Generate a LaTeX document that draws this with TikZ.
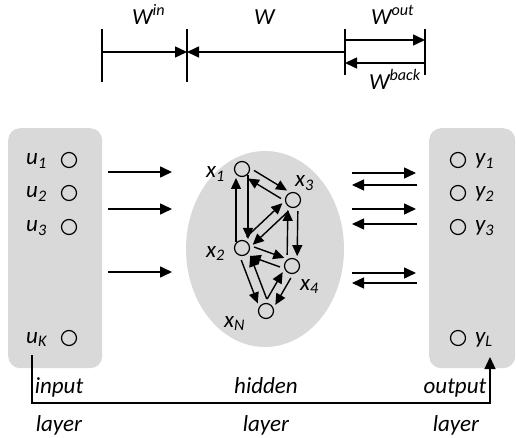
\documentclass[tikz,border=0pt]{standalone}
\usepackage{fontspec}
\setmainfont{Carlito}
\usetikzlibrary{arrows.meta,calc,shapes.geometric}
\definecolor{panel}{RGB}{217,217,217}
\tikzset{
  lbl/.style={font=\fontsize{23}{27}\selectfont\itshape, inner sep=0pt, anchor=base west},
  lblc/.style={font=\fontsize{23}{27}\selectfont\itshape, inner sep=0pt, anchor=base},
  neuron/.style={circle, draw, line width=1.2pt, minimum size=15pt, inner sep=0pt},
  panelbox/.style={fill=panel, rounded corners=12pt, inner sep=0pt, anchor=north west},
  arr/.style={line width=1.5pt, -{Triangle[length=12pt,width=11pt]}},
  farr/.style={line width=1.3pt, -{Triangle[length=12pt,width=11pt]}},
  harr/.style={line width=1.4pt, -{Triangle[length=11pt,width=10pt]}, shorten <=11pt, shorten >=10pt},
  dimline/.style={line width=1.5pt},
}
\newcommand\hpair[4][]{%
  \draw[harr,#1] ($(#2)!#4!90:(#3)$) -- ($(#3)!#4!-90:(#2)$);
  \draw[harr,#1] ($(#3)!#4!90:(#2)$) -- ($(#2)!#4!-90:(#3)$);
}
\begin{document}
\begin{tikzpicture}[x=1pt,y=-1pt]
\useasboundingbox (0,0) rectangle (516,438);

% ---- top dimension diagram ----
\coordinate (t1a) at (102,29); \coordinate (t1b) at (102,82);
\coordinate (t2a) at (187,29); \coordinate (t2b) at (187,82);
\coordinate (t3a) at (345,29); \coordinate (t3b) at (345,75);
\coordinate (t4a) at (425,29); \coordinate (t4b) at (425,75);
\draw[dimline] (t1a) -- (t1b);
\draw[dimline] (t2a) -- (t2b);
\draw[dimline] (t3a) -- (t3b);
\draw[dimline] (t4a) -- (t4b);
\coordinate (m1) at (102,52); \coordinate (m2) at (187,52); \coordinate (m3) at (345,52);
\draw[arr] (m1) -- (m2);
\draw[arr] (m3) -- (m2);
\coordinate (o1) at (345,40); \coordinate (o2) at (425,40);
\draw[arr] (o1) -- (o2);
\coordinate (b1) at (425,63); \coordinate (b2) at (345,63);
\draw[arr] (b1) -- (b2);
\node[lbl] (lwin) at (132,25) {W\textsuperscript{in}};
\node[lbl] (lw) at (254,25) {W};
\node[lbl] (lwout) at (371,25) {W\textsuperscript{out}};
\node[lbl] (lwback) at (369,90) {W\textsuperscript{back}};

% ---- panels ----
\node[panelbox, minimum width=94pt, minimum height=240pt] (inbox) at (8,128) {};
\node[panelbox, minimum width=86pt, minimum height=240pt] (outbox) at (429,128) {};
\node[fill=panel, ellipse, inner sep=0pt, minimum width=158pt, minimum height=196pt] (hid) at (265,249) {};

% ---- input units ----
\node[neuron] (u1) at (69,160) {};
\node[neuron] (u2) at (69,193) {};
\node[neuron] (u3) at (69,227) {};
\node[neuron] (uK) at (69,338) {};
\node[lbl] (lu1) at (26,165) {u\textsubscript{1}};
\node[lbl] (lu2) at (26,198) {u\textsubscript{2}};
\node[lbl] (lu3) at (26,232) {u\textsubscript{3}};
\node[lbl] (luK) at (26,343) {u\textsubscript{K}};

% ---- output units ----
\node[neuron] (y1) at (458,160) {};
\node[neuron] (y2) at (458,193) {};
\node[neuron] (y3) at (458,227) {};
\node[neuron] (yL) at (458,338) {};
\node[lbl] (ly1) at (475,165) {y\textsubscript{1}};
\node[lbl] (ly2) at (475,198) {y\textsubscript{2}};
\node[lbl] (ly3) at (475,232) {y\textsubscript{3}};
\node[lbl] (lyL) at (475,343) {y\textsubscript{L}};

% ---- hidden units ----
\node[neuron] (x1) at (242,169) {};
\node[neuron] (x3) at (293,200) {};
\node[neuron] (x2) at (242,248) {};
\node[neuron] (x4) at (292,266) {};
\node[neuron] (xN) at (266,311) {};
\node[lbl] (lx1) at (206,178) {x\textsubscript{1}};
\node[lbl] (lx3) at (295,187) {x\textsubscript{3}};
\node[lbl] (lx2) at (206,257) {x\textsubscript{2}};
\node[lbl] (lx4) at (300,290) {x\textsubscript{4}};
\node[lbl] (lxN) at (224,327) {x\textsubscript{N}};

\hpair[shorten <=6pt, shorten >=9pt]{x1}{x2}{6pt}
\hpair{x1}{x3}{5pt}
\hpair{x2}{x3}{5pt}
\hpair{x3}{x4}{5pt}
\hpair{x2}{x4}{5pt}
\hpair{x2}{xN}{-5pt}
\hpair{x4}{xN}{5pt}

% ---- input -> hidden arrows ----
\foreach \yy [count=\i] in {172,209,272}{
  \coordinate (ia\i) at (108,\yy); \coordinate (ib\i) at (172,\yy);
  \draw[arr] (ia\i) -- (ib\i);
}
% ---- hidden <-> output arrows ----
\foreach \yy [count=\i] in {173,209,273}{
  \coordinate (oa\i) at (352,\yy); \coordinate (ob\i) at (416,\yy);
  \draw[arr] (oa\i) -- (ob\i);
}
\foreach \yy [count=\i] in {185,224,283}{
  \coordinate (ra\i) at (417,\yy); \coordinate (rb\i) at (352,\yy);
  \draw[arr] (ra\i) -- (rb\i);
}

% ---- feedback line ----
\coordinate (fb1) at (32,355);
\coordinate (fb2) at (490,403);
\coordinate (fb3) at (490,357);
\draw[farr] (fb1) |- (fb2) -- (fb3);

% ---- layer labels ----
\node[lblc] (tin) at (59,393) {input};
\node[lblc] (tinl) at (59,431) {layer};
\node[lblc] (thid) at (266,393) {hidden};
\node[lblc] (thidl) at (266,431) {layer};
\node[lblc] (tout) at (455,393) {output};
\node[lblc] (toutl) at (456,431) {layer};
\end{tikzpicture}
\end{document}
